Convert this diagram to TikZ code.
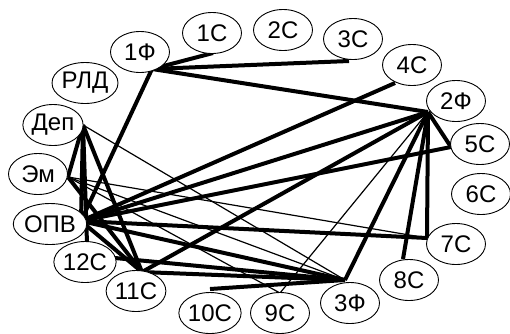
\documentclass[tikz,border=0pt]{standalone}
\usepackage{fontspec}
\setmainfont{Liberation Sans}
\usetikzlibrary{shapes.geometric}
\pgfdeclarelayer{bg}
\pgfsetlayers{bg,main}
\begin{document}
\begin{tikzpicture}[x=1pt,y=-1pt,
  vert/.style={ellipse,draw,line width=0.9pt,fill=white,minimum width=59pt,minimum height=41pt,inner sep=0pt,font=\fontsize{24}{24}\selectfont},
  thk/.style={line width=4pt},
  thn/.style={line width=1.2pt}]
\useasboundingbox (0,0) rectangle (510,333);
\node[vert] (F1) at (140,52) {1Ф};
\node[vert] (C1) at (212,33) {1С};
\node[vert] (C2) at (283,30) {2С};
\node[vert] (C3) at (353,39) {3С};
\node[vert] (C4) at (412,65) {4С};
\node[vert] (F2) at (456,101) {2Ф};
\node[vert] (C5) at (480,144) {5С};
\node[vert] (C6) at (481,194) {6С};
\node[vert] (C7) at (456,244) {7С};
\node[vert] (C8) at (409,280) {8С};
\node[vert] (F3) at (350,303) {3Ф};
\node[vert] (C9) at (280,313) {9С};
\node[vert] (C10) at (210,313) {10С};
\node[vert] (C11) at (136,291) {11С};
\node[vert] (C12) at (85,262) {12С};
\node[vert] (OPV) at (50,224) {ОПВ};
\node[vert] (Em) at (38,174) {Эм};
\node[vert] (Dep) at (53,125) {Деп};
\node[vert] (RLD) at (85,83) {РЛД};
\coordinate (pF1) at (152,69);
\coordinate (pC1) at (213,53);
\coordinate (pC3) at (349,61);
\coordinate (pC4) at (395,83);
\coordinate (pF2) at (428,112);
\coordinate (pC5) at (451,147);
\coordinate (pC7) at (427,238);
\coordinate (pC8) at (403,259);
\coordinate (pF3) at (345,280);
\coordinate (pC9) at (280,293);
\coordinate (pC10) at (210,289);
\coordinate (pC11) at (142,272);
\coordinate (pC12t) at (87,243);
\coordinate (pC12r) at (115,258);
\coordinate (pOPV) at (81,221);
\coordinate (pEm) at (68,177);
\coordinate (pDep) at (83,125);
\begin{pgfonlayer}{bg}
\draw[thk] (pF1) -- (pC1);
\draw[thk] (pF1) -- (pC3);
\draw[thk] (pF1) -- (pF2);
\draw[thk] (pF1) -- (pOPV);
\draw[thk] (pOPV) -- (pC4);
\draw[thk] (pOPV) -- (pF2);
\draw[thk] (pOPV) -- (pC5);
\draw[thk] (pOPV) -- (pC7);
\draw[thk] (pOPV) -- (pC11);
\draw[thk] (pOPV) -- (pF3);
\draw[thk] (pF2) -- (pC5);
\draw[thk] (pF2) -- (pC7);
\draw[thk] (pF2) -- (pC8);
\draw[thk] (pF2) -- (pF3);
\draw[thk] (pF2) -- (pC11);
\draw[thk] (pDep) -- (pEm);
\draw[thk] (pDep) -- (pOPV);
\draw[thk] (pDep) -- (pC12t);
\draw[thk] (pDep) -- (pC11);
\draw[thk] (pEm) -- (pC11);
\draw[thk] (pC12r) -- (pF3);
\draw[thk] (pC11) -- (pF3);
\draw[thk] (pC10) -- (pF3);
\draw[thn] (pDep) -- (pF3);
\draw[thn] (pEm) -- (pC7);
\draw[thn] (pEm) -- (pF3);
\draw[thn] (pEm) -- (pC9);
\draw[thn] (pF2) -- (pC9);
\end{pgfonlayer}
\end{tikzpicture}
\end{document}
